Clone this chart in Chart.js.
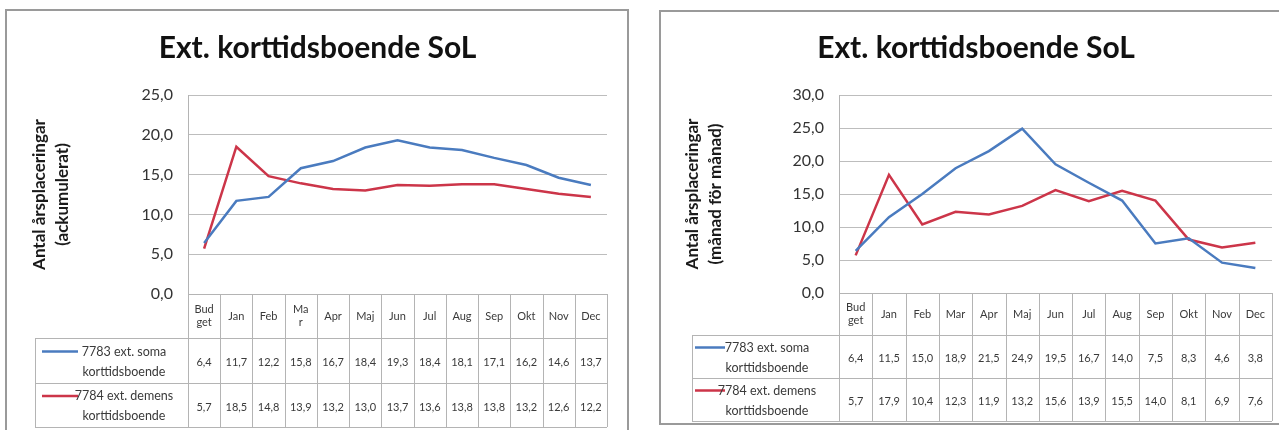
<!DOCTYPE html>
<html>
<head>
<meta charset="utf-8">
<script src="https://cdn.jsdelivr.net/npm/chart.js@4.4.1/dist/chart.umd.min.js"></script>
<style>
  html, body { margin: 0; padding: 0; background: #fff; width: 1279px; height: 430px; overflow: hidden; }
  .panel { position: absolute; box-sizing: border-box; border: 2px solid #9a9a9a; }
  canvas { position: absolute; top: 0; }
</style>
</head>
<body>
<div class="panel" style="left:5px;top:9px;width:624px;height:440px"></div>
<div class="panel" style="left:659px;top:10px;width:640px;height:415px"></div>
<canvas id="acc" width="645" height="430" style="left:0"></canvas>
<canvas id="mon" width="634" height="430" style="left:645px"></canvas>
<script>
// Chart title and category labels (two-line entries wrap inside the table header)
const TITLE = 'Ext. korttidsboende SoL';
const MONTHS_ACC = [['Bud', 'get'], 'Jan', 'Feb', ['Ma', 'r'], 'Apr', 'Maj', 'Jun', 'Jul', 'Aug', 'Sep', 'Okt', 'Nov', 'Dec'];
const MONTHS_MON = [['Bud', 'get'], 'Jan', 'Feb', 'Mar', 'Apr', 'Maj', 'Jun', 'Jul', 'Aug', 'Sep', 'Okt', 'Nov', 'Dec'];

// Series names as shown in the data table legend cells
const SOMA_NAME = ['7783 ext. soma', 'korttidsboende'];
const DEMENS_NAME = ['7784 ext. demens', 'korttidsboende'];

// Accumulated number of yearly placements
const SOMA_ACC = [6.4, 11.7, 12.2, 15.8, 16.7, 18.4, 19.3, 18.4, 18.1, 17.1, 16.2, 14.6, 13.7];
const DEMENS_ACC = [5.7, 18.5, 14.8, 13.9, 13.2, 13.0, 13.7, 13.6, 13.8, 13.8, 13.2, 12.6, 12.2];

// Month-by-month number of yearly placements
const SOMA_MON = [6.4, 11.5, 15.0, 18.9, 21.5, 24.9, 19.5, 16.7, 14.0, 7.5, 8.3, 4.6, 3.8];
const DEMENS_MON = [5.7, 17.9, 10.4, 12.3, 11.9, 13.2, 15.6, 13.9, 15.5, 14.0, 8.1, 6.9, 7.6];

// Y axis tick settings
const Y_MAX_ACC = 25;
const Y_MAX_MON = 30;
const Y_STEP = 5;

const BLUE = '#4a7bbf';
const RED = '#cc3549';
const FONT = 'Lato, "Open Sans", "DejaVu Sans", sans-serif';

const fmt = v => v.toFixed(1).replace('.', ',');

// Draws an Excel-style data table under the plot, with columns taken from the x scale
const dataTable = {
  id: 'dataTable',
  afterDraw(chart, args, o) {
    const ctx = chart.ctx;
    const a = chart.chartArea;
    const xs = chart.scales.x;
    const labels = chart.data.labels;
    const n = labels.length;
    const step = xs.getPixelForValue(1) - xs.getPixelForValue(0);
    const px = v => Math.round(v) + 0.5;
    const top0 = a.bottom;
    const r1 = top0 + o.rows[0];
    const r2 = r1 + o.rows[1];
    const bot = r2 + o.rows[2];
    const right = xs.getPixelForValue(n - 1) + step / 2;

    ctx.save();
    ctx.strokeStyle = o.lineColor;
    ctx.lineWidth = 1;
    ctx.beginPath();
    const h = (x1, x2, y) => { ctx.moveTo(x1, px(y)); ctx.lineTo(x2, px(y)); };
    const v = (x, y1, y2) => { ctx.moveTo(px(x), y1); ctx.lineTo(px(x), y2); };
    h(a.left, right, top0);
    h(o.keyLeft, right, r1);
    h(o.keyLeft, right, r2);
    h(o.keyLeft, right, bot);
    v(a.left, a.top, bot);
    v(o.keyLeft, r1, bot);
    for (let i = 0; i < n; i++) {
      v(xs.getPixelForValue(i) + step / 2, top0, bot);
    }
    ctx.stroke();

    ctx.fillStyle = o.textColor;
    ctx.font = o.fontSize + 'px ' + FONT;
    ctx.textAlign = 'center';
    ctx.textBaseline = 'middle';

    // header row: category labels
    const hc = (top0 + r1) / 2;
    labels.forEach((lab, i) => {
      const x = xs.getPixelForValue(i);
      const lines = Array.isArray(lab) ? lab : [lab];
      const y0 = hc - (lines.length - 1) * 6.5;
      lines.forEach((t, k) => ctx.fillText(t, x, y0 + k * 13));
    });

    // one row per series: legend key, name and values
    const rowTops = [r1, r2];
    chart.data.datasets.forEach((ds, d) => {
      const yc = rowTops[d] + o.rows[d + 1] / 2;
      ctx.strokeStyle = ds.borderColor;
      ctx.lineWidth = 2.5;
      ctx.beginPath();
      ctx.moveTo(o.keyLeft + o.keyStart, yc - 9);
      ctx.lineTo(o.keyLeft + o.keyStart + o.keyLen, yc - 9);
      ctx.stroke();
      ctx.fillStyle = o.textColor;
      ctx.font = o.nameSize + 'px ' + FONT;
      const tx = o.keyLeft + o.textOffset;
      ds.tableName.forEach((t, k) => ctx.fillText(t, tx, yc - 9 + k * 20));
      ctx.font = o.fontSize + 'px ' + FONT;
      ds.data.forEach((val, i) => ctx.fillText(fmt(val), xs.getPixelForValue(i), yc + 2));
    });
    ctx.restore();
  }
};

function makeChart(id, cfg) {
  return new Chart(document.getElementById(id), {
    type: 'line',
    data: {
      labels: cfg.labels,
      datasets: [
        { label: cfg.names[0].join(' '), tableName: cfg.names[0], data: cfg.soma, borderColor: BLUE, backgroundColor: BLUE, borderWidth: 2.5, pointRadius: 0, tension: 0 },
        { label: cfg.names[1].join(' '), tableName: cfg.names[1], data: cfg.demens, borderColor: RED, backgroundColor: RED, borderWidth: 2.5, pointRadius: 0, tension: 0 }
      ]
    },
    options: {
      responsive: false,
      animation: false,
      devicePixelRatio: 1,
      layout: { padding: { left: cfg.padLeft, right: cfg.padRight, top: 0, bottom: 0 } },
      plugins: {
        legend: { display: false },
        tooltip: { enabled: false },
        title: {
          display: true,
          text: TITLE,
          color: '#111',
          font: { family: FONT, size: 30, weight: 'bold', lineHeight: 1.2 },
          padding: { top: 30, bottom: 95 - 30 - 36 }
        },
        dataTable: cfg.table
      },
      scales: {
        x: {
          type: 'category',
          offset: true,
          grid: { display: false },
          border: { display: false },
          ticks: { display: false },
          afterFit: s => { s.height = 430 - cfg.bottom; }
        },
        y: {
          min: 0,
          max: cfg.yMax,
          ticks: {
            stepSize: Y_STEP,
            padding: 15,
            color: '#333',
            font: { family: FONT, size: 16 },
            callback: val => fmt(val)
          },
          grid: { color: '#bdbdbd', lineWidth: 1, drawTicks: false, tickLength: 0 },
          border: { color: '#a8a8a8' },
          title: {
            display: true,
            text: cfg.yTitle,
            color: '#1a1a1a',
            font: { family: FONT, size: 17, weight: 'bold', lineHeight: '23px' },
            padding: { top: cfg.titlePad, bottom: 0 }
          },
          afterFit: s => { s.width = cfg.yWidth; }
        }
      }
    },
    plugins: [dataTable]
  });
}

makeChart('acc', {
  labels: MONTHS_ACC,
  names: [SOMA_NAME, DEMENS_NAME],
  soma: SOMA_ACC,
  demens: DEMENS_ACC,
  yMax: Y_MAX_ACC,
  yTitle: ['Antal årsplaceringar', '(ackumulerat)'],
  padLeft: 28,
  padRight: 38,
  yWidth: 160,
  titlePad: 0,
  bottom: 294,
  table: { rows: [44, 45, 44], keyLeft: 35, keyStart: 7, keyLen: 36, textOffset: 89, fontSize: 11, nameSize: 12.5, lineColor: '#b4b4b4', textColor: '#3a3a3a' }
});

makeChart('mon', {
  labels: MONTHS_MON,
  names: [SOMA_NAME, DEMENS_NAME],
  soma: SOMA_MON,
  demens: DEMENS_MON,
  yMax: Y_MAX_MON,
  yTitle: ['Antal årsplaceringar', '(månad för månad)'],
  padLeft: 35,
  padRight: 7,
  yWidth: 159,
  titlePad: 1,
  bottom: 293,
  table: { rows: [42, 43, 43], keyLeft: 47, keyStart: 3, keyLen: 30, textOffset: 75, fontSize: 11, nameSize: 12.5, lineColor: '#b4b4b4', textColor: '#3a3a3a' }
});
</script>
</body>
</html>
